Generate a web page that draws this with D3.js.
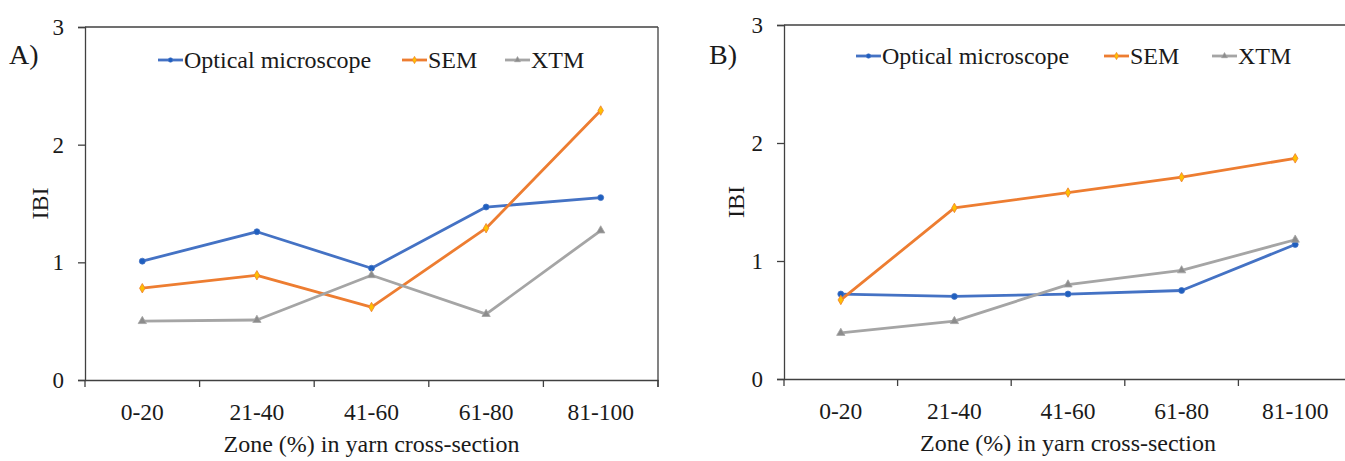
<!DOCTYPE html>
<html>
<head>
<meta charset="utf-8">
<script src="https://cdn.jsdelivr.net/npm/d3@7"></script>
<style>
html,body{margin:0;padding:0;background:#fff;}
svg{display:block;}
text{font-family:"Liberation Serif","Times New Roman",Times,serif;fill:#1a1a1a;}
</style>
</head>
<body>
<svg id="chart" width="1345" height="461"></svg>
<script>
const categories = ["0-20", "21-40", "41-60", "61-80", "81-100"];
const seriesNames = ["Optical microscope", "SEM", "XTM"];
const yTicks = [0, 1, 2, 3];

const opticalA = [1.01, 1.26, 0.95, 1.47, 1.55];
const semA     = [0.78, 0.89, 0.62, 1.29, 2.29];
const xtmA     = [0.50, 0.51, 0.89, 0.56, 1.27];

const opticalB = [0.72, 0.70, 0.72, 0.75, 1.14];
const semB     = [0.67, 1.45, 1.58, 1.71, 1.87];
const xtmB     = [0.39, 0.49, 0.80, 0.92, 1.18];

const colors = ["#4472C4", "#ED7D31", "#A5A5A5"];
const markerFill = ["#1F5FBF", "#FFC000", "#8C8C8C"];
const FONT = "'Liberation Serif', 'Times New Roman', Times, serif";

const svg = d3.select("#chart");

function drawPanel(opt) {
  const g = svg.append("g");
  const x = d3.scaleBand().domain(categories).range([opt.x0, opt.x1]);
  const y = d3.scaleLinear().domain([0, 3]).range([opt.y0, opt.y1]);
  const axisColor = "#404040";

  // frame (top and right)
  g.append("line").attr("x1", opt.x0).attr("x2", opt.x1)
    .attr("y1", y(3)).attr("y2", y(3))
    .attr("stroke", axisColor).attr("stroke-width", 1.3);
  g.append("line").attr("x1", opt.x1).attr("x2", opt.x1)
    .attr("y1", y(3)).attr("y2", y(0) + 7)
    .attr("stroke", axisColor).attr("stroke-width", 1.3);

  // y axis
  const yAxis = d3.axisLeft(y).tickValues(yTicks).tickFormat(d3.format("d"))
    .tickSize(7).tickPadding(14);
  const ya = g.append("g").attr("transform", `translate(${opt.x0},0)`).call(yAxis);
  ya.attr("font-family", FONT);
  ya.select(".domain").attr("stroke", axisColor).attr("stroke-width", 1.3);
  ya.selectAll(".tick line").attr("stroke", axisColor).attr("stroke-width", 1.3);
  ya.selectAll(".tick text").style("font-size", "23px")
    .style("font-family", FONT).attr("fill", "#1a1a1a");

  // x axis
  const xAxis = d3.axisBottom(x).tickSize(0).tickPadding(23);
  const xa = g.append("g").attr("transform", `translate(0,${opt.y0})`).call(xAxis);
  xa.attr("font-family", FONT);
  xa.select(".domain").attr("stroke", axisColor).attr("stroke-width", 1.3);
  xa.selectAll(".tick text").style("font-size", "23.5px")
    .style("font-family", FONT).attr("fill", "#1a1a1a");
  // category boundary ticks
  const bounds = categories.map(c => x(c)).concat([opt.x1]);
  g.selectAll(".btick").data(bounds).enter().append("line")
    .attr("x1", d => d).attr("x2", d => d)
    .attr("y1", opt.y0).attr("y2", opt.y0 + 7)
    .attr("stroke", axisColor).attr("stroke-width", 1.3);

  // lines
  const line = d3.line()
    .x((d, i) => x(categories[i]) + x.bandwidth() / 2)
    .y(d => y(d));

  opt.series.forEach((s, si) => {
    g.append("path").datum(s).attr("d", line)
      .attr("fill", "none").attr("stroke", colors[si])
      .attr("stroke-width", 2.8).attr("stroke-linejoin", "round");
  });
  opt.series.forEach((s, si) => {
    const sym = [d3.symbolCircle, d3.symbolDiamond, d3.symbolTriangle][si];
    const size = [28, 26, 30][si];
    g.selectAll(".m" + si).data(s).enter().append("path")
      .attr("d", d3.symbol().type(sym).size(size))
      .attr("transform", (d, i) => `translate(${x(categories[i]) + x.bandwidth() / 2},${y(d)})`)
      .attr("fill", markerFill[si]).attr("stroke", colors[si]).attr("stroke-width", 0.8);
  });

  // legend
  opt.legend.forEach((L, i) => {
    g.append("line").attr("x1", L.lx).attr("x2", L.lx + 25)
      .attr("y1", opt.legY).attr("y2", opt.legY)
      .attr("stroke", colors[i]).attr("stroke-width", 2.8);
    const sym = [d3.symbolCircle, d3.symbolDiamond, d3.symbolTriangle][i];
    g.append("path").attr("d", d3.symbol().type(sym).size(16))
      .attr("transform", `translate(${L.lx + 12.5},${opt.legY})`)
      .attr("fill", markerFill[i]).attr("stroke", colors[i]).attr("stroke-width", 0.6);
    g.append("text").attr("x", L.lx + 26).attr("y", opt.legY + 8)
      .style("font-size", "24px").text(seriesNames[i]);
  });

  // panel label
  g.append("text").attr("x", opt.labX).attr("y", opt.labY)
    .style("font-size", "28px").text(opt.label);

  // y title
  g.append("text")
    .attr("transform", `translate(${opt.ytX},${(opt.y0 + opt.y1) / 2}) rotate(-90)`)
    .attr("text-anchor", "middle").style("font-size", "24px").text("IBI");

  // x title
  g.append("text").attr("x", (opt.x0 + opt.x1) / 2).attr("y", opt.xtY)
    .attr("text-anchor", "middle").style("font-size", "24px")
    .text("Zone (%) in yarn cross-section");
}

drawPanel({
  x0: 85, x1: 658, y0: 380, y1: 27,
  series: [opticalA, semA, xtmA],
  legY: 60,
  legend: [{lx: 158}, {lx: 402}, {lx: 505}],
  label: "A)", labX: 9, labY: 64,
  ytX: 48, xtY: 452
});

drawPanel({
  x0: 784, x1: 1352, y0: 379, y1: 25,
  series: [opticalB, semB, xtmB],
  legY: 56,
  legend: [{lx: 856}, {lx: 1104}, {lx: 1212}],
  label: "B)", labX: 709, labY: 64,
  ytX: 744, xtY: 451
});
</script>
</body>
</html>
